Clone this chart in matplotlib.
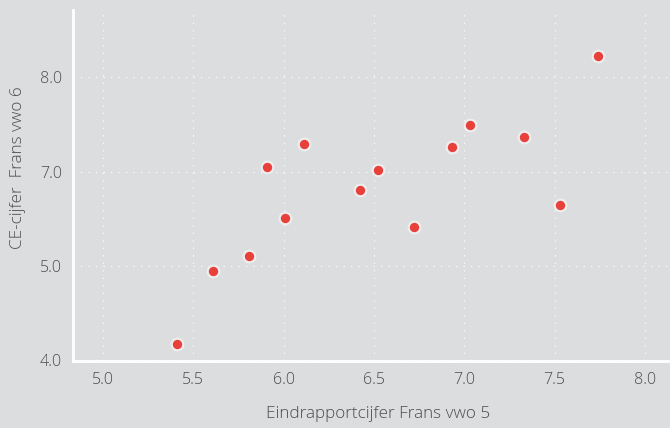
import numpy as np
import matplotlib.pyplot as plt

# Eindrapportcijfer vwo 5 vs CE-cijfer vwo 6
rapport_vwo5 = [5.41, 5.61, 5.81, 5.91, 6.01, 6.11, 6.42, 6.52, 6.72, 6.93, 7.03, 7.33, 7.53, 7.74]
ce_vwo6 = [4.23, 5.26, 5.47, 6.73, 6.01, 7.05, 6.40, 6.69, 5.89, 7.02, 7.32, 7.15, 6.20, 8.30]

x_ticks = [5.0, 5.5, 6.0, 6.5, 7.0, 7.5, 8.0]
y_tick_labels = ['4.0', '5.0', '7.0', '8.0']

bg = '#dcdddf'
txt = '#4d4d4d'

plt.rcParams['font.family'] = ['Open Sans', 'DejaVu Sans']

fig = plt.figure(figsize=(6.7, 4.28), dpi=100, facecolor=bg)
ax = fig.add_axes([0.109, 0.1565, 0.891, 0.82])
ax.set_facecolor(bg)

ax.scatter(rapport_vwo5, ce_vwo6, s=70, color='#e8403a', edgecolors='#eeeeee',
           linewidths=1.6, zorder=3)

ax.set_xlim(4.834, 8.139)
ax.set_ylim(3.99, 8.95)
ax.set_xticks(x_ticks)
ax.set_xticklabels([f'{v:.1f}' for v in x_ticks])
ax.set_yticks(np.linspace(4, 8, len(y_tick_labels)))
ax.set_yticklabels(y_tick_labels)

ax.grid(True, color='white', linestyle=(0, (1, 5)), linewidth=0.9, alpha=0.9)
ax.set_axisbelow(True)

for side in ['top', 'right']:
    ax.spines[side].set_visible(False)
for side in ['left', 'bottom']:
    ax.spines[side].set_color('white')
    ax.spines[side].set_linewidth(2)

ax.tick_params(length=0, labelsize=11.5, labelcolor=txt, pad=8)
for lbl in ax.get_xticklabels() + ax.get_yticklabels():
    lbl.set_fontweight('light')

ax.set_xlabel('Eindrapportcijfer Frans vwo 5', fontsize=12.3, color=txt,
              fontweight='light')
ax.set_ylabel('CE-cijfer  Frans vwo 6', fontsize=12.3, color=txt,
              fontweight='light')
ax.xaxis.set_label_coords(0.511, -0.128)
ax.yaxis.set_label_coords(-0.078, 0.55)

fig.savefig('out.png', dpi=100, facecolor=bg)
